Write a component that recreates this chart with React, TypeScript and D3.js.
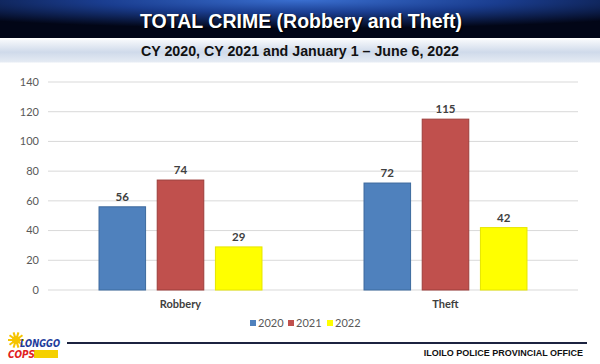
import React from "react";
import * as d3 from "d3";

// chart data
const categories = ["Robbery", "Theft"];
const years = ["2020", "2021", "2022"];
const values2020 = [56, 72];
const values2021 = [74, 115];
const values2022 = [29, 42];
const yTicks = [0, 20, 40, 60, 80, 100, 120, 140];

const colors: Record<string, string> = { "2020": "#4F81BD", "2021": "#C0504D", "2022": "#FFFF00" };
const strokes: Record<string, string> = { "2020": "#3d6a9e", "2021": "#9c3d3a", "2022": "#e6e600" };

const W = 600;
const H = 364;
const plot = { left: 48, right: 578, top: 82, bottom: 290 };

function App() {
  const series = [values2020, values2021, values2022];

  const x0 = d3.scaleBand().domain(categories).range([plot.left, plot.right])
    .paddingInner(0.385).paddingOuter(0.1925);
  const x1 = d3.scaleBand().domain(years).range([0, x0.bandwidth()]).paddingInner(0.2);
  const y = d3.scaleLinear().domain([0, 140]).range([plot.bottom, plot.top]);

  const label = "Lato, 'Open Sans', sans-serif";

  // legend positions (squares)
  const legendX = [250, 288, 327];

  return (
    <svg width={W} height={H} style={{ position: "absolute", left: 0, top: 0 }}>
      <defs>
        <radialGradient id="hdr" cx="50%" cy="0%" r="75%" fx="50%" fy="0%">
          <stop offset="0%" stopColor="#3a6fd0" />
          <stop offset="45%" stopColor="#1a3d8f" />
          <stop offset="100%" stopColor="#020617" />
        </radialGradient>
        <linearGradient id="sub" x1="0" y1="0" x2="0" y2="1">
          <stop offset="0%" stopColor="#f7f9fc" />
          <stop offset="55%" stopColor="#cfdaea" />
          <stop offset="100%" stopColor="#e6ecf4" />
        </linearGradient>
      </defs>
      <rect x={0} y={0} width={W} height={H} fill="#ffffff" />

      {/* header */}
      <rect x={0} y={0} width={W} height={38} fill="url(#hdr)" />
      <rect x={0} y={38} width={W} height={1.5} fill="#ffffff" />
      <rect x={0} y={39.5} width={W} height={23} fill="url(#sub)" />
      <text x={301} y={28} textAnchor="middle" fill="#ffffff" fontFamily="'Liberation Sans', Arial, sans-serif"
        fontWeight="bold" fontSize={20} textLength={322} lengthAdjust="spacingAndGlyphs"
        style={{ textShadow: "1px 1px 1px #000" }}>
        TOTAL CRIME (Robbery and Theft)
      </text>
      <text x={300} y={56} textAnchor="middle" fill="#111111" fontFamily="'Liberation Sans', Arial, sans-serif"
        fontWeight="bold" fontSize={15} textLength={318} lengthAdjust="spacingAndGlyphs">
        CY 2020, CY 2021 and January 1 – June 6, 2022
      </text>

      {/* grid + y axis */}
      {yTicks.map((t) => (
        <g key={t}>
          <line x1={plot.left} x2={plot.right} y1={y(t)} y2={y(t)} stroke="#d9d9d9" strokeWidth={1} />
          <text x={39} y={y(t)} dy="0.35em" textAnchor="end" fill="#595959" fontFamily={label} fontSize={11}>
            {t}
          </text>
        </g>
      ))}

      {/* bars */}
      {categories.map((c, ci) => (
        <g key={c} transform={`translate(${x0(c)},0)`}>
          {years.map((yr, yi) => {
            const v = series[yi][ci];
            const bx = x1(yr) as number;
            return (
              <g key={yr}>
                <rect x={bx} y={y(v)} width={x1.bandwidth()} height={y(0) - y(v)}
                  fill={colors[yr]} stroke={strokes[yr]} strokeWidth={1} />
                <text x={bx + x1.bandwidth() / 2} y={y(v) - 6} textAnchor="middle" fill="#404040"
                  fontFamily={label} fontWeight="bold" fontSize={11.5}>
                  {v}
                </text>
              </g>
            );
          })}
          <text x={x0.bandwidth() / 2} y={308} textAnchor="middle" fill="#404040" fontFamily={label}
            fontWeight="bold" fontSize={11}>
            {c}
          </text>
        </g>
      ))}

      {/* legend */}
      {years.map((yr, i) => (
        <g key={yr}>
          <rect x={legendX[i]} y={320} width={6} height={6} fill={colors[yr]} />
          <text x={legendX[i] + 8} y={327} fill="#595959" fontFamily={label} fontSize={11}>{yr}</text>
        </g>
      ))}

      {/* footer */}
      <line x1={67} x2={587} y1={343} y2={343} stroke="#1c2340" strokeWidth={2} />
      <text x={583} y={356} textAnchor="end" fill="#111111" fontFamily="'Liberation Sans Narrow', 'Liberation Sans', Arial, sans-serif"
        fontWeight="bold" fontSize={9}>
        ILOILO POLICE PROVINCIAL OFFICE
      </text>

      {/* logo */}
      <g>
        {d3.range(10).map((i) => {
          const a = (i / 10) * Math.PI * 2;
          return (
            <line key={i} x1={16} y1={340} x2={16 + Math.cos(a) * 8} y2={340 + Math.sin(a) * 8}
              stroke="#f5c400" strokeWidth={2} />
          );
        })}
        <circle cx={16} cy={340} r={4} fill="#f5c400" />
        <rect x={34} y={350} width={24} height={8} fill="#f5d000" />
        <text x={20} y={347} fill="#1e3c9c" fontFamily="'DejaVu Sans', sans-serif" fontWeight="bold"
          fontStyle="italic" fontSize={10} textLength={40} lengthAdjust="spacingAndGlyphs">LONGGO</text>
        <text x={8} y={358} fill="#e02020" fontFamily="'DejaVu Sans', sans-serif" fontWeight="bold"
          fontStyle="italic" fontSize={11} textLength={27} lengthAdjust="spacingAndGlyphs">COPS</text>
      </g>
    </svg>
  );
}

export default App;
